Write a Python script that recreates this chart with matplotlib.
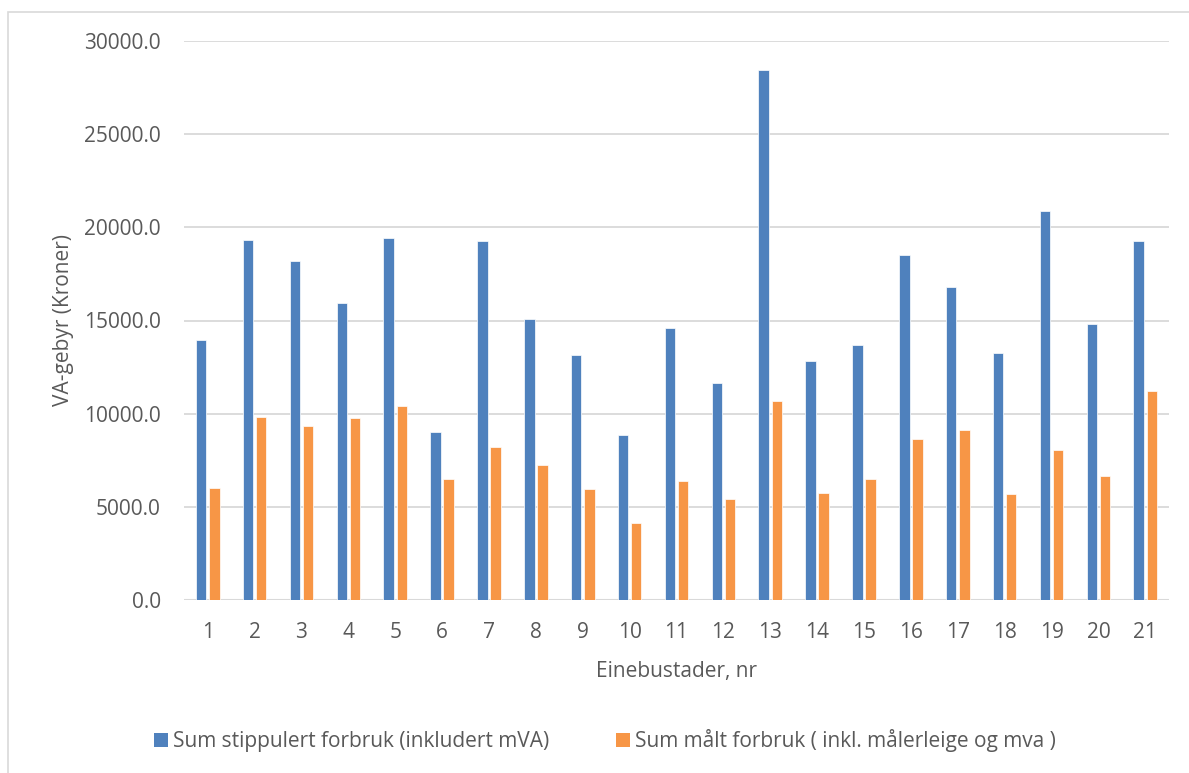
import matplotlib
matplotlib.use("Agg")
import matplotlib.pyplot as plt
from matplotlib.patches import Rectangle, Patch
import numpy as np

# Data: VA fees per detached house (kroner)
houses = [str(i) for i in range(1, 22)]
estimated = [13930, 19330, 18210, 15930, 19420, 9040, 19260, 15090, 13160, 8830,
             14590, 11650, 28450, 12820, 13700, 18530, 16810, 13250, 20870, 14820, 19260]
measured = [6020, 9830, 9330, 9790, 10400, 6480, 8230, 7270, 5940, 4120,
            6360, 5410, 10690, 5760, 6480, 8630, 9150, 5710, 8060, 6640, 11210]
y_ticks = [0, 5000, 10000, 15000, 20000, 25000, 30000]

series_labels = ["Sum stippulert forbruk (inkludert mVA)",
                 "Sum målt forbruk ( inkl. målerleige og mva )"]
blue = "#4F81BD"
orange = "#F79646"
text_color = "#595959"
grid_color = "#D9D9D9"

plt.rcParams["font.family"] = ["Open Sans", "DejaVu Sans"]

W, H = 1189, 773
fig = plt.figure(figsize=(W / 100, H / 100), dpi=100)
fig.patch.set_facecolor("white")

# Chart-area frame (light grey), open to the right and bottom
fig.add_artist(Rectangle((8.3 / W, -0.1), 2.0, 1.1 - 11.7 / H, transform=fig.transFigure,
                         fill=False, edgecolor=grid_color, linewidth=1.2))

left, right = 184.3 / W, 1168.7 / W
bottom, top = 1 - 600 / H, 1 - 41 / H
ax = fig.add_axes([left, bottom, right - left, top - bottom])

x = np.arange(len(houses))
bw = 0.224
off = 0.141
ax.bar(x - off, estimated, width=bw, color=blue, edgecolor="white", linewidth=0.5,
       label=series_labels[0], zorder=3)
ax.bar(x + off, measured, width=bw, color=orange, edgecolor="white", linewidth=0.5,
       label=series_labels[1], zorder=3)

ax.set_xlim(-0.5, len(houses) - 0.5)
ax.set_ylim(0, 30000)
ax.set_xticks(x)
ax.set_xticklabels(houses)
ax.set_yticks(y_ticks)
ax.set_yticklabels([f"{v:.1f}" for v in y_ticks])

for s in ax.spines.values():
    s.set_visible(False)
ax.yaxis.grid(True, color=grid_color, linewidth=1.3, zorder=0)
ax.set_axisbelow(True)
ax.axhline(0, color=grid_color, linewidth=1.5, zorder=2)

ax.tick_params(axis="both", length=0, colors=text_color, labelsize=15)
ax.tick_params(axis="y", pad=17)
ax.tick_params(axis="x", pad=16)

ax.set_xlabel("Einebustader, nr", fontsize=15, color=text_color)
ax.xaxis.set_label_coords(0.5, -0.11)
ax.set_ylabel("VA-gebyr (Kroner)", fontsize=15, color=text_color)
ax.yaxis.set_label_coords(-0.112, 0.5)

handles = [Patch(facecolor=blue, edgecolor="none"), Patch(facecolor=orange, edgecolor="none")]
leg = fig.legend(handles, series_labels, loc="center", bbox_to_anchor=(605 / W, 1 - 741 / H),
                 ncol=2, frameon=False, fontsize=15, handlelength=0.67, handleheight=0.67,
                 handletextpad=0.25, columnspacing=3.2, borderpad=0)
for t in leg.get_texts():
    t.set_color(text_color)

fig.savefig("out.png", dpi=100, facecolor="white")
